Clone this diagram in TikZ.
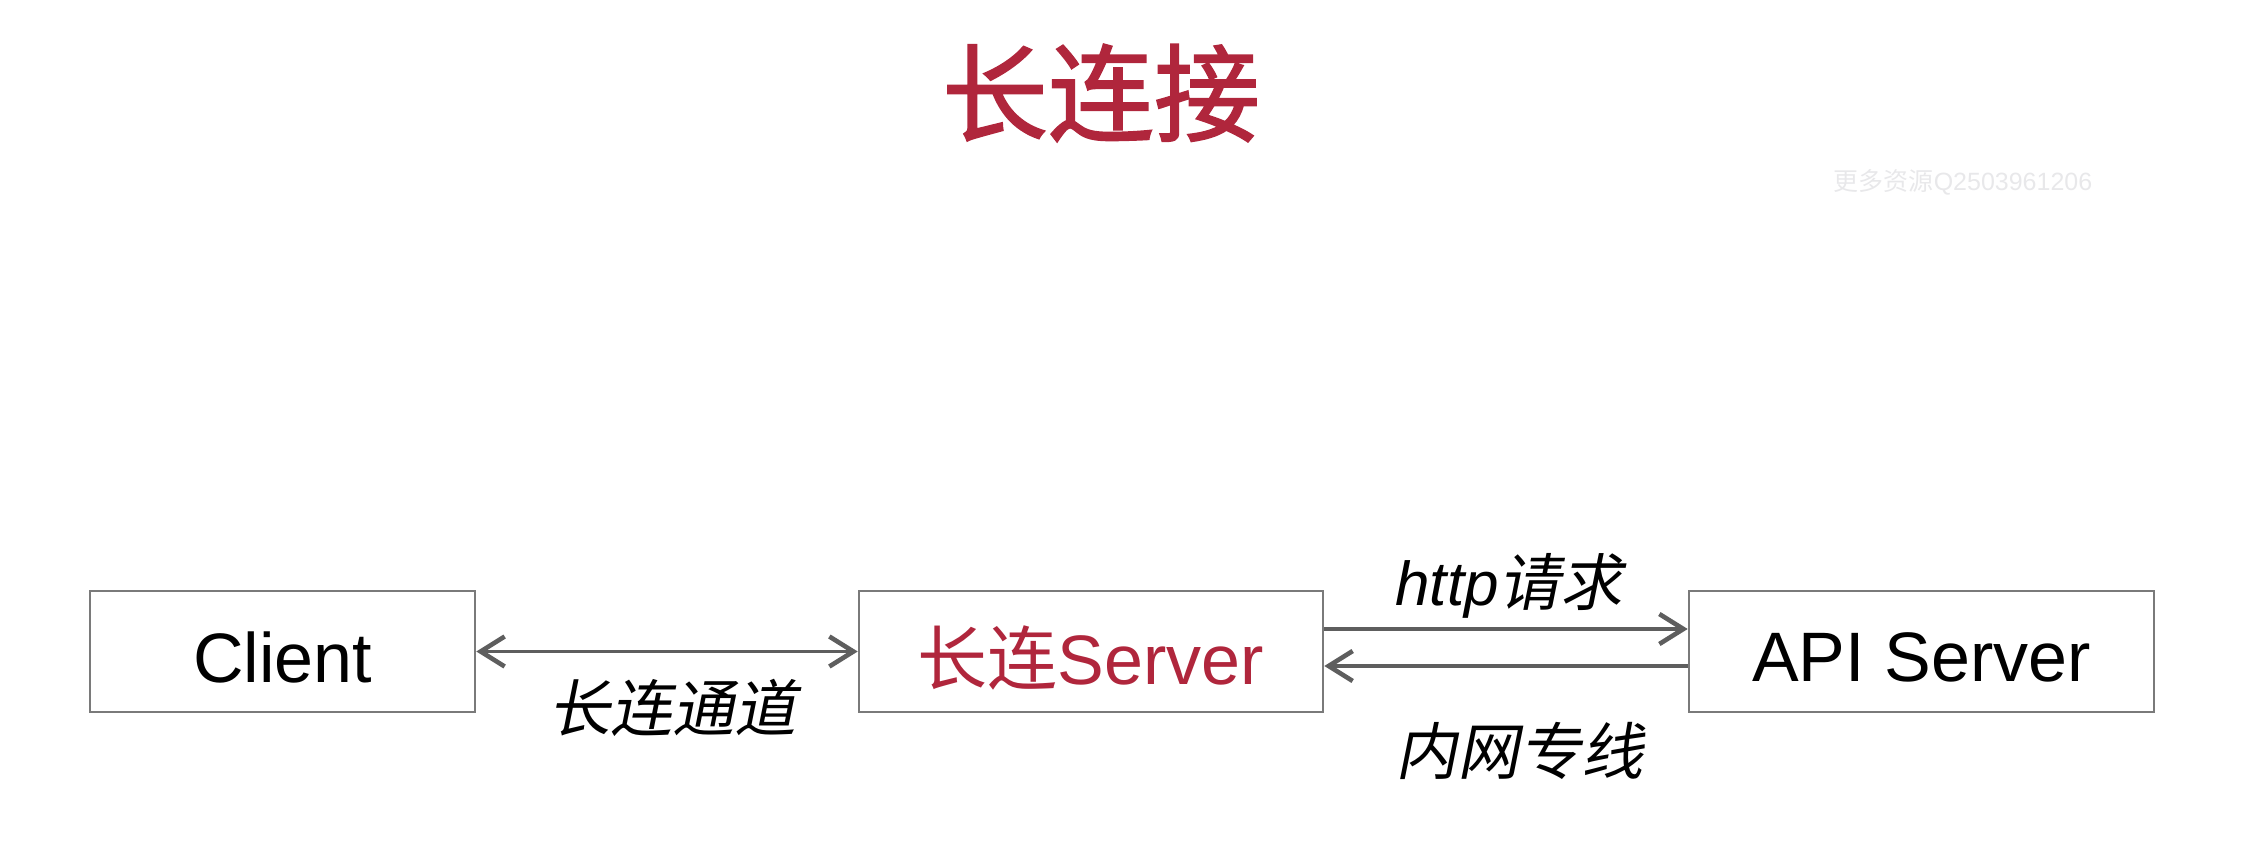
\documentclass[tikz,border=0pt]{standalone}
\usepackage{fontspec}
\setmainfont{Liberation Sans}
\newfontfamily\cjk{Noto Sans CJK SC}
\newfontfamily\cjkmed{Noto Sans CJK SC}[FakeBold=1.6]
\newfontfamily\cjkit{Noto Sans CJK SC}[FakeSlant=0.2]
\usetikzlibrary{arrows.meta}
\definecolor{crim}{HTML}{B0263C}
\definecolor{boxgray}{HTML}{7A7A7A}
\definecolor{arrgray}{HTML}{5E5E5E}
\definecolor{wm}{HTML}{E8E8EA}
\newcommand\lowtxt[1]{\raisebox{-3pt}[\height][\depth]{#1}}
\tikzset{
  box/.style={draw=boxgray, line width=1.3pt, fill=white, minimum height=60.5pt, inner sep=0pt, font=\fontsize{35}{42}\selectfont},
  conn/.style={draw=arrgray, line width=1.7pt, -{Straight Barb[length=12pt,width=15pt,line width=2.3pt]}},
  lbl/.style={inner sep=0pt, font=\fontsize{31}{36}\selectfont},
}
\begin{document}
\begin{tikzpicture}[x=0.5pt,y=-0.5pt]
\useasboundingbox (0,0) rectangle (2242,844);
\node[inner sep=0pt, text=crim, font=\fontsize{53}{60}\selectfont\cjkmed] (title) at (1101,93) {长连接};
\node[inner sep=0pt, text=wm, font=\fontsize{12.5}{15}\selectfont] (wmark) at (1963,182) {{\cjk 更多资源}Q2503961206};
\node[box, minimum width=192.5pt] (client) at (282.5,651.5) {\lowtxt{Client}};
\node[box, minimum width=232pt, text=crim] (lserver) at (1091,651.5) {\lowtxt{{\cjk 长连}Server}};
\node[box, minimum width=232.5pt] (api) at (1921.5,651.5) {\lowtxt{API Server}};
\draw[conn, {Straight Barb[length=12pt,width=15pt,line width=2.3pt]}-{Straight Barb[length=12pt,width=15pt,line width=2.3pt]}] (client.east) -- (lserver.west);
\draw[conn] (lserver.east |- 0,629) -- (api.west |- 0,629);
\draw[conn] (api.west |- 0,666) -- (lserver.east |- 0,666);
\node[lbl] (l1) at (672,708) {\cjkit 长连通道};
\node[lbl] (l2) at (1509,586) {\itshape http{\cjkit 请求}};
\node[lbl] (l3) at (1519,751) {\cjkit 内网专线};
\end{tikzpicture}
\end{document}
